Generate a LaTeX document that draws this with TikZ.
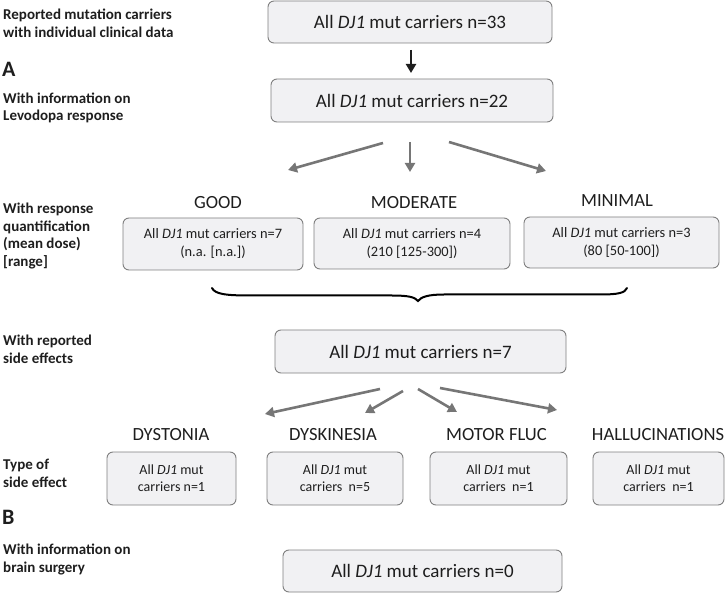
\documentclass[tikz,border=0pt]{standalone}
\usepackage{fontspec}
\setmainfont{Carlito}
\usetikzlibrary{arrows.meta}
\definecolor{boxfill}{HTML}{F1F1F3}
\definecolor{boxline}{HTML}{7F7F7F}
\definecolor{arrgray}{HTML}{767676}
\definecolor{txt}{HTML}{1E1E1E}
\begin{document}
\begin{tikzpicture}[x=1pt,y=-1pt,
 box/.style={draw=boxline, fill=boxfill, line width=0.9pt, rounded corners=6pt, inner sep=0pt, align=center, text=txt},
 boxtext/.style={font=\fontsize{19}{23}\selectfont},
 midtext/.style={font=\fontsize{14.4}{18}\selectfont},
 smalltext/.style={font=\fontsize{14}{17}\selectfont},
 cat/.style={font=\fontsize{18.6}{22}\selectfont, text=txt, inner sep=0pt},
 side/.style={font=\fontsize{15}{17.5}\selectfont\bfseries, align=left, anchor=west, inner sep=0pt, text=txt},
 panel/.style={font=\fontsize{22}{26}\selectfont\bfseries, anchor=west, inner sep=0pt, text=txt},
 garrow/.style={draw=arrgray, line width=2.6pt, -{Triangle[length=9pt,width=10pt]}},
 karrow/.style={draw=txt, line width=2.6pt, -{Triangle[length=9pt,width=10pt]}},
]
\useasboundingbox (0,0) rectangle (725,593);

% left column
\node[side] (l1) at (3,23.5) {Reported mutation carriers\\with individual clinical data};
\node[panel] (pA) at (2,69) {A};
\node[side] (l2) at (3,108) {With information on\\Levodopa response};
\node[side] (l3) at (3,236) {With response\\quantification\\(mean dose)\\{[range]}};
\node[side] (l4) at (3,349.5) {With reported\\side effects};
\node[side] (l5) at (3,473.5) {Type of\\side effect};
\node[panel] (pB) at (2,517) {B};
\node[side] (l6) at (3,559.5) {With information on\\brain surgery};

% top boxes
\node[box, boxtext, minimum width=284pt, minimum height=42pt] (top) at (410,22) {All \textit{DJ1} mut carriers n=33};
\node[box, boxtext, minimum width=282pt, minimum height=43pt] (lev) at (412,100.5) {All \textit{DJ1} mut carriers n=22};

\coordinate (k1) at (411,50);
\coordinate (k2) at (411,73);
\draw[karrow] (k1) -- (k2);

% response categories
\node[cat] (good) at (218,203) {GOOD};
\node[cat] (mod) at (414,203) {MODERATE};
\node[cat] (mini) at (617,201) {MINIMAL};

\coordinate (a1s) at (383,143); \coordinate (a1e) at (288,170);
\coordinate (a2s) at (410,142); \coordinate (a2e) at (410,172);
\coordinate (a3s) at (449,142); \coordinate (a3e) at (546,171);
\draw[garrow] (a1s) -- (a1e);
\draw[garrow] (a2s) -- (a2e);
\draw[garrow] (a3s) -- (a3e);

\node[box, midtext, minimum width=180pt, minimum height=52pt] (bgood) at (213,244) {All \textit{DJ1} mut carriers n=7\\(n.a. [n.a.])};
\node[box, midtext, minimum width=196pt, minimum height=51pt] (bmod) at (412,243.5) {All \textit{DJ1} mut carriers n=4\\(210 [125-300])};
\node[box, midtext, minimum width=195pt, minimum height=51pt] (bmin) at (621.5,242.5) {All \textit{DJ1} mut carriers n=3\\(80 [50-100])};

% brace
\draw[black, line width=2pt, line cap=round]
 (212,288) .. controls (215,294) and (225,295.5) .. (250,295.5)
 -- (392,295.5) .. controls (408,295.5) and (415,297) .. (418,301)
 .. controls (421,297) and (428,294.5) .. (444,294.5)
 -- (600,294.5) .. controls (618,294.5) and (625,293) .. (627,288);

% side effects
\node[box, boxtext, minimum width=291pt, minimum height=43pt] (side) at (420.5,351.5) {All \textit{DJ1} mut carriers n=7};

\coordinate (s1s) at (380,389); \coordinate (s1e) at (265,414);
\coordinate (s2s) at (403,391); \coordinate (s2e) at (365,413);
\coordinate (s3s) at (418,389); \coordinate (s3e) at (457,412);
\coordinate (s4s) at (440,388); \coordinate (s4e) at (557,410);
\draw[garrow] (s1s) -- (s1e);
\draw[garrow] (s2s) -- (s2e);
\draw[garrow] (s3s) -- (s3e);
\draw[garrow] (s4s) -- (s4e);

\node[cat] (dyst) at (171,435) {DYSTONIA};
\node[cat] (dysk) at (333,435) {DYSKINESIA};
\node[cat] (motor) at (496.5,435) {MOTOR FLUC};
\node[cat] (hall) at (658,435) {HALLUCINATIONS};

\node[box, smalltext, minimum width=129pt, minimum height=53pt] (bdyst) at (171.5,478.5) {All \textit{DJ1} mut\\carriers n=1};
\node[box, smalltext, minimum width=136pt, minimum height=53pt] (bdysk) at (335,478.5) {All \textit{DJ1} mut\\carriers~~n=5};
\node[box, smalltext, minimum width=137pt, minimum height=53pt] (bmotor) at (498.5,478.5) {All \textit{DJ1} mut\\carriers~~n=1};
\node[box, smalltext, minimum width=131pt, minimum height=53pt] (bhall) at (658.5,478.5) {All \textit{DJ1} mut\\carriers~~n=1};

% brain surgery
\node[box, boxtext, minimum width=279pt, minimum height=42pt] (surg) at (422.5,571) {All \textit{DJ1} mut carriers n=0};
\end{tikzpicture}
\end{document}
